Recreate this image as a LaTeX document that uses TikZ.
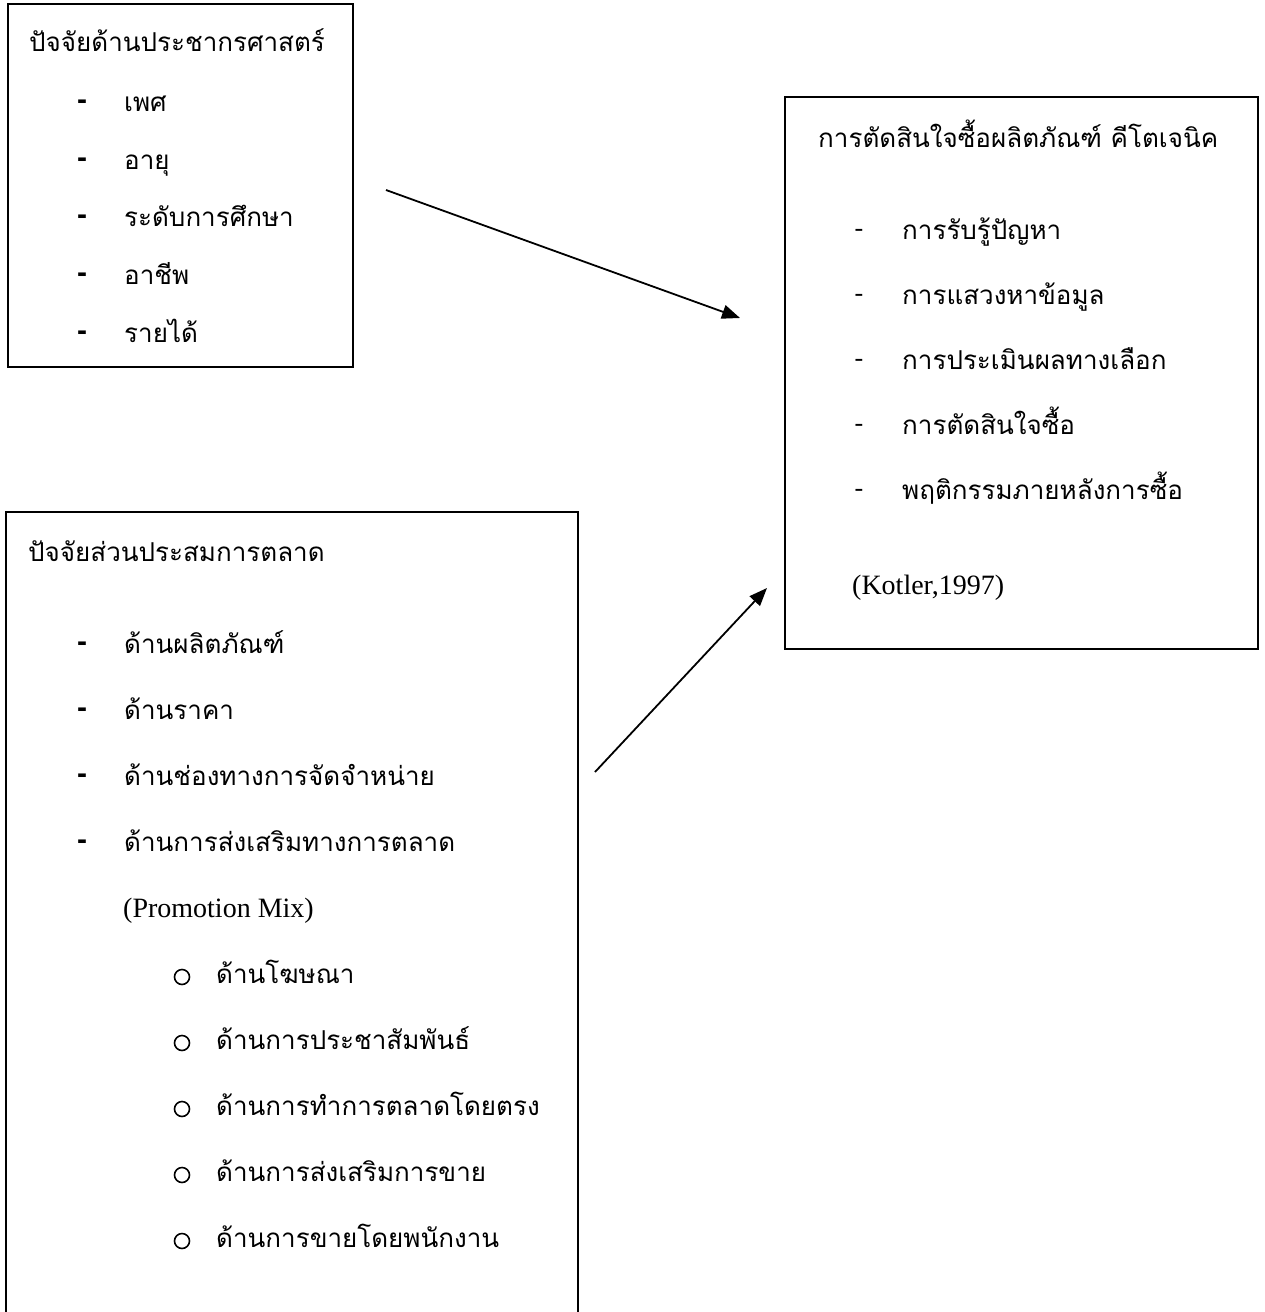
\documentclass[tikz,border=0pt]{standalone}
\usepackage{fontspec}
\setmainfont{Liberation Serif}
\newfontfamily\thaifont[Script=Thai]{Loma}
\newfontfamily\dashfnt{Liberation Sans}
\usetikzlibrary{arrows.meta}
\begin{document}
\begin{tikzpicture}[x=1pt,y=-1pt,
  frame/.style={draw, line width=2.4pt, anchor=north west, inner sep=0pt},
  th/.style={anchor=west, inner sep=0pt, text height=20pt, text depth=8pt, font=\thaifont\fontsize{26}{30}\selectfont},
  lat/.style={anchor=west, inner sep=0pt, text height=20pt, text depth=8pt, font=\fontsize{28}{30}\selectfont},
  bdash/.style={anchor=center, inner sep=0pt, font=\dashfnt\bfseries\fontsize{30}{30}\selectfont},
  tdash/.style={anchor=center, inner sep=0pt, font=\fontsize{26}{30}\selectfont},
  bul/.style={circle, draw, line width=1.6pt, inner sep=0pt, minimum size=15pt},
  arr/.style={-{Triangle[length=18pt,width=14pt]}, line width=1.8pt}
]
\useasboundingbox (0,0) rectangle (1264,1312);
\clip (0,0) rectangle (1264,1312);
\fill[white] (0,0) rectangle (1264,1312);

% frames
\node[frame, minimum width=345pt, minimum height=363pt] (demo) at (7,3) {};
\node[frame, minimum width=473pt, minimum height=552pt] (dec) at (784,96) {};
\node[frame, minimum width=572pt, minimum height=840pt] (mix) at (5,511) {};

% box 1
\node[th] (t1) at (29,45) {ปัจจัยด้านประชากรศาสตร์};
\foreach \y/\t [count=\i] in {105/เพศ,163/อายุ,220/ระดับการศึกษา,278/อาชีพ,336/รายได้}{
  \node[bdash] (d1\i) at (82,\y) {-};
  \node[th] (a\i) at (124,\y) {\t};
}

% box 2
\node[th] (t2) at (818,141) {การตัดสินใจซื้อผลิตภัณฑ์ คีโตเจนิค};
\foreach \y/\t [count=\i] in {233/การรับรู้ปัญหา,298/การแสวงหาข้อมูล,363/การประเมินผลทางเลือก,428/การตัดสินใจซื้อ,493/พฤติกรรมภายหลังการซื้อ}{
  \node[tdash] (d2\i) at (859,\y) {-};
  \node[th] (b\i) at (902,\y) {\t};
}
\node[lat] (kot) at (852,588) {(Kotler,1997)};

% box 3
\node[th] (t3) at (28,555) {ปัจจัยส่วนประสมการตลาด};
\foreach \y/\t [count=\i] in {647/ด้านผลิตภัณฑ์,713/ด้านราคา,779/ด้านช่องทางการจัดจำหน่าย,845/ด้านการส่งเสริมทางการตลาด}{
  \node[bdash] (d3\i) at (82,\y) {-};
  \node[th] (c\i) at (124,\y) {\t};
}
\node[lat] (pm) at (123,911) {(Promotion Mix)};
\foreach \y/\t [count=\i] in {977/ด้านโฆษณา,1043/ด้านการประชาสัมพันธ์,1109/ด้านการทำการตลาดโดยตรง,1175/ด้านการส่งเสริมการขาย,1241/ด้านการขายโดยพนักงาน}{
  \node[bul] (o\i) at (182,\y) {};
  \node[th] (e\i) at (216,\y) {\t};
}

% arrows
\coordinate (s1) at (386,190);
\coordinate (e1) at (740,318);
\coordinate (s2) at (595,772);
\coordinate (e2) at (767,588);
\draw[arr] (s1) -- (e1);
\draw[arr] (s2) -- (e2);
\end{tikzpicture}
\end{document}
